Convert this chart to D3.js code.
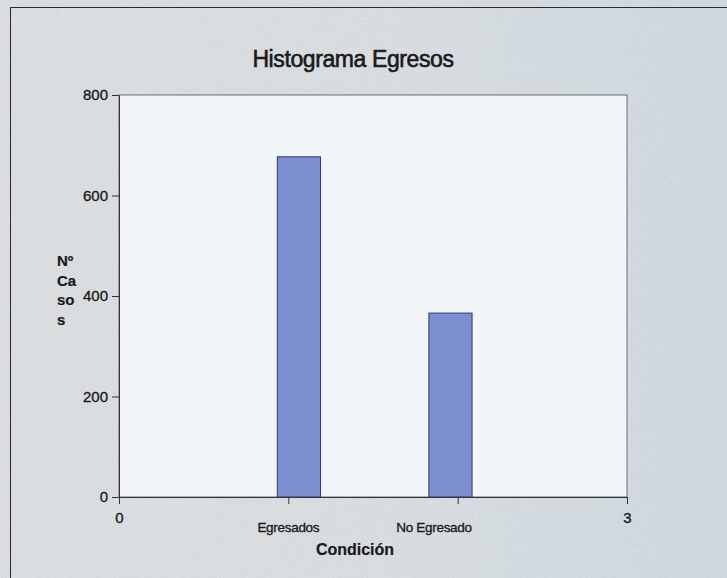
<!DOCTYPE html>
<html>
<head>
    <title>Histograma Egresos</title>
    <script src="https://d3js.org/d3.v7.min.js"></script>
    <style>
        * { margin: 0; padding: 0; }
        body { background: #dfe2e4; }
        text { font-family: "Liberation Sans", Arial, sans-serif; fill: #1a1a1a; stroke: #1a1a1a; stroke-width: 0.35px; }
    </style>
</head>
<body>
<div id="chart"></div>
<script>
    // datos
    const categorias = ["Egresados", "No Egresado"];
    const casos = [677, 366];
    const barraDesde = [0.935, 1.83];   // borde izquierdo de cada barra (unidades del eje x)
    const anchoBarra = 0.255;
    const posEtiqueta = [1.0, 1.86];    // donde se centra el texto de cada categoria
    const ticksX = [0, 1, 2, 3];
    const etiquetasX = {0: "0", 3: "3"};
    const ticksY = [0, 200, 400, 600, 800];
    const tituloY = ["Nº", "Ca", "so", "s"];

    const width = 727, height = 578;
    const margin = {top: 95, right: 100, bottom: 81, left: 119};

    const svg = d3.select("#chart").append("svg")
        .attr("width", width)
        .attr("height", height);

    const defs = svg.append("defs");
    const grad = defs.append("linearGradient").attr("id", "fondo")
        .attr("x1", "0").attr("x2", "1").attr("y1", "0").attr("y2", "0");
    grad.append("stop").attr("offset", "0%").attr("stop-color", "#dde0e2");
    grad.append("stop").attr("offset", "55%").attr("stop-color", "#dadfe2");
    grad.append("stop").attr("offset", "100%").attr("stop-color", "#cfdae1");

    const ruido = defs.append("filter").attr("id", "ruido")
        .attr("x", 0).attr("y", 0).attr("width", "100%").attr("height", "100%");
    ruido.append("feTurbulence").attr("type", "fractalNoise")
        .attr("baseFrequency", 1.1).attr("numOctaves", 2).attr("seed", 3);
    ruido.append("feColorMatrix").attr("type", "matrix")
        .attr("values", "0 0 0 0 0.45  0 0 0 0 0.47  0 0 0 0 0.5  0 0 0 1.2 -0.45");

    svg.append("rect").attr("width", width).attr("height", height).attr("fill", "url(#fondo)");
    svg.append("rect").attr("width", width).attr("height", height)
        .attr("filter", "url(#ruido)").attr("opacity", 0.45);

    // marco exterior
    svg.append("rect")
        .attr("x", 10.5).attr("y", 7.5)
        .attr("width", width + 10).attr("height", height + 10)
        .attr("fill", "none").attr("stroke", "#2b2b2b");

    const x = d3.scaleLinear().domain([0, 3]).range([margin.left, width - margin.right]);
    const y = d3.scaleLinear().domain([0, 800]).range([height - margin.bottom, margin.top]);

    // area del grafico
    svg.append("rect")
        .attr("x", x(0)).attr("y", y(800))
        .attr("width", x(3) - x(0)).attr("height", y(0) - y(800))
        .attr("fill", "#f3f6f9")
        .attr("stroke", "#6b6b6b");

    svg.selectAll("rect.barra")
        .data(casos)
        .join("rect")
        .attr("class", "barra")
        .attr("x", (d, i) => x(barraDesde[i]))
        .attr("y", d => y(d))
        .attr("width", (d, i) => x(barraDesde[i] + anchoBarra) - x(barraDesde[i]))
        .attr("height", d => y(0) - y(d))
        .attr("fill", "#7b8ecf")
        .attr("stroke", "#2e3a72")
        .attr("stroke-width", 1);

    const ejeY = svg.append("g")
        .attr("transform", `translate(${x(0)},0)`)
        .call(d3.axisLeft(y).tickValues(ticksY).tickSize(7).tickSizeOuter(0).tickPadding(4));
    ejeY.selectAll("text").style("font-size", "15px").attr("fill", "#1a1a1a");

    const ejeX = svg.append("g")
        .attr("transform", `translate(0,${y(0)})`)
        .call(d3.axisBottom(x).tickValues(ticksX).tickSize(7).tickSizeOuter(0)
            .tickFormat(d => etiquetasX[d] || "").tickPadding(8));
    ejeX.selectAll("text").style("font-size", "15px").attr("fill", "#1a1a1a");

    svg.selectAll(".domain, .tick line").attr("stroke", "#333");

    svg.selectAll("text.cat")
        .data(categorias)
        .join("text")
        .attr("class", "cat")
        .attr("x", (d, i) => x(posEtiqueta[i]))
        .attr("y", 532)
        .attr("text-anchor", "middle")
        .style("font-size", "13.5px")
        .style("letter-spacing", "-0.3px")
        .text(d => d);

    svg.append("text")
        .attr("x", 355).attr("y", 555)
        .attr("text-anchor", "middle")
        .style("font-size", "16px")
        .style("font-weight", "bold")
        .style("stroke-width", "0.2px")
        .text("Condición");

    svg.append("text")
        .attr("x", 353).attr("y", 67)
        .attr("text-anchor", "middle")
        .style("font-size", "23px")
        .style("letter-spacing", "-0.4px")
        .style("stroke-width", "0.6px")
        .text("Histograma Egresos");

    svg.selectAll("text.ytit")
        .data(tituloY)
        .join("text")
        .attr("class", "ytit")
        .attr("x", 57)
        .attr("y", (d, i) => 266 + i * 19.5)
        .style("font-size", "15px")
        .style("font-weight", "bold")
        .style("stroke-width", "0.2px")
        .text(d => d);
</script>
</body>
</html>
